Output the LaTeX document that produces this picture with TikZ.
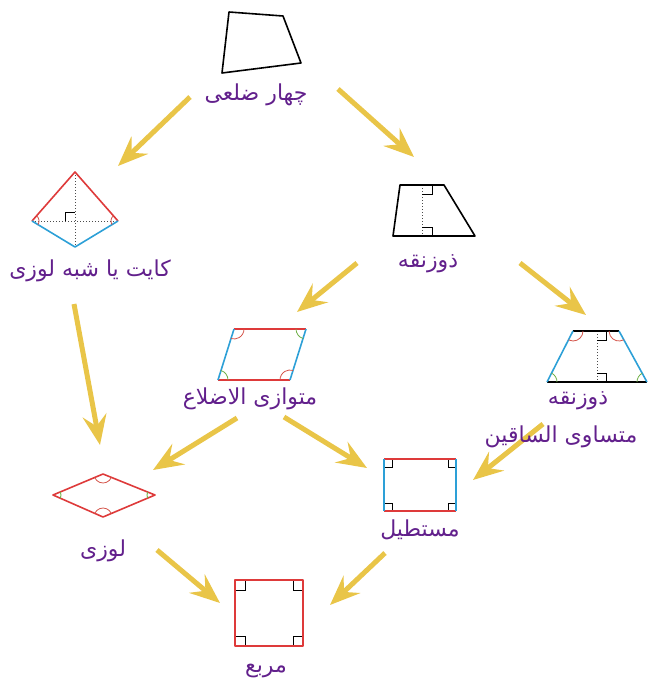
\documentclass[tikz,border=0pt]{standalone}
\usepackage{xcolor}
\usepackage{fontspec}
\usepackage{tikz}
\usetikzlibrary{positioning, arrows.meta}
\newfontfamily\arabicfont[Script=Arabic]{DejaVu Sans}
\TeXXeTstate=1
\definecolor{namepurple}{RGB}{98,32,140}
\definecolor{flowyellow}{RGB}{233,197,72}
\definecolor{edgered}{RGB}{222,58,58}
\definecolor{edgeblue}{RGB}{45,160,215}
\definecolor{arcred}{RGB}{212,84,74}
\definecolor{arcgreen}{RGB}{112,176,72}
\pgfdeclarelayer{background}
\pgfsetlayers{background,main}
\newcommand{\anglearc}[5]{\draw[#5] (#1) ++(#2:#4) arc[start angle=#2, end angle=#3, radius=#4];}
\newcommand{\rtltext}[1]{\beginR #1\endR}
\tikzset{flow/.style={line width=5pt, draw=flowyellow, -{Stealth[length=30pt, width=24pt, inset=11pt]}},
	shapename/.style={font=\arabicfont\fontsize{22}{26}\selectfont, text=namepurple, inner sep=0pt},
	shapebox/.style={inner sep=0pt, outer sep=0pt},
	outline/.style={line width=1.6pt, line join=round},
	helper/.style={dotted, line width=1pt, black!70},
	corner/.style={line width=0.8pt, black}}

\begin{document}
\begin{tikzpicture}[x=1pt, y=-1pt]
	\useasboundingbox (0,0) rectangle (660,682);
	\node[shapebox, minimum width=79pt, minimum height=61pt] (Quad) at (261.5,42.5) {};
	\node[shapebox, minimum width=86pt, minimum height=75pt] (Kite) at (75,209.5) {};
	\node[shapebox, minimum width=82pt, minimum height=51pt] (Trap) at (434,210.5) {};
	\node[shapebox, minimum width=88pt, minimum height=51pt] (Para) at (262,354.5) {};
	\node[shapebox, minimum width=100pt, minimum height=51pt] (Iso) at (597,356.5) {};
	\node[shapebox, minimum width=102pt, minimum height=43pt] (Rhombus) at (104,495.5) {};
	\node[shapebox, minimum width=72pt, minimum height=52pt] (Rect) at (420,485) {};
	\node[shapebox, minimum width=68pt, minimum height=66pt] (Square) at (269,613) {};
	
	\node[shapename, below of=Quad, node distance=52.5pt, xshift=-5.5pt] (Quad label) {\rtltext{چهار ضلعی}};
	\node[shapename, below of=Kite, node distance=61.5pt, xshift=15pt] (Kite label) {\rtltext{کایت یا شبه لوزی}};
	\node[shapename, below of=Trap, node distance=53.5pt, xshift=-6pt] (Trap label) {\rtltext{ذوزنقه}};
	\node[shapename, below of=Para, node distance=44.5pt, xshift=-12pt] (Para label) {\rtltext{متوازی الاضلاع}};
	\node[shapename, below of=Iso, node distance=44.5pt, xshift=-19pt] (Iso label) {\rtltext{ذوزنقه}};
	\node[shapename, below of=Iso label, node distance=36pt, xshift=-17pt] (Iso label 2) {\rtltext{متساوی الساقین}};
	\node[shapename, below of=Rhombus, node distance=55.5pt, xshift=-1pt] (Rhombus label) {\rtltext{لوزی}};
	\node[shapename, below of=Rect, node distance=45pt] (Rect label) {\rtltext{مستطیل}};
	\node[shapename, below of=Square, node distance=58pt, xshift=-3pt] (Square label) {\rtltext{مربع}};
	
	\draw[outline] (229,12) -- (283,16) -- (301,63) -- (222,73) -- cycle;
	
	\draw[helper] (32,221) -- (118,221) (75,172) -- (75,247);
	\draw[corner] (65,221) |- (75,212);
	\draw[outline, edgered] (32,221) -- (75,172) -- (118,221);
	\draw[outline, edgeblue] (32,221) -- (75,247) -- (118,221);
	\anglearc{32,221}{-48.7}{31.2}{7}{arcred, line width=0.8pt}
	\anglearc{118,221}{148.8}{228.7}{7}{arcred, line width=0.8pt}
	
	\draw[helper] (422,185) -- (422,236);
	\draw[corner] (432,185) |- (422,194) (422,227) -| (432,236);
	\draw[outline] (400,185) -- (444,185) -- (475,236) -- (393,236) -- cycle;
	
	\draw[outline, edgered] (234,329) -- (306,329) (218,380) -- (290,380);
	\draw[outline, edgeblue] (234,329) -- (218,380) (306,329) -- (290,380);
	\anglearc{234,329}{0}{107.4}{10}{arcred, line width=0.8pt}
	\anglearc{290,380}{180}{287.4}{10}{arcred, line width=0.8pt}
	\anglearc{306,329}{107.4}{180}{10}{arcgreen, line width=0.8pt}
	\anglearc{218,380}{287.4}{360}{10}{arcgreen, line width=0.8pt}
	
	\draw[helper] (597,331) -- (597,382);
	\draw[corner] (606,331) |- (597,340) (597,373) -| (606,382);
	\draw[outline] (573,331) -- (619,331) (547,382) -- (647,382);
	\draw[outline, edgeblue] (573,331) -- (547,382) (619,331) -- (647,382);
	\anglearc{573,331}{0}{117}{10}{arcred, line width=0.8pt}
	\anglearc{619,331}{61.2}{180}{10}{arcred, line width=0.8pt}
	\anglearc{547,382}{297}{360}{10}{arcgreen, line width=0.8pt}
	\anglearc{647,382}{180}{241.2}{10}{arcgreen, line width=0.8pt}
	
	\draw[outline, edgered] (53,495) -- (103,474) -- (155,495) -- (103,517) -- cycle;
	\anglearc{53,495}{-22.8}{23.7}{8}{arcgreen, line width=0.9pt}
	\anglearc{155,495}{157}{202}{8}{arcgreen, line width=0.9pt}
	\anglearc{103,474}{22}{157.2}{9}{arcred, line width=0.8pt}
	\anglearc{103,517}{203.7}{337.1}{9}{arcred, line width=0.8pt}
	
	\draw[corner] (384,467) -| (392,459) (456,467) -| (448,459) (384,503) -| (392,511) (456,503) -| (448,511);
	\draw[outline, edgered] (384,459) -- (456,459) (384,511) -- (456,511);
	\draw[outline, edgeblue] (384,459) -- (384,511) (456,459) -- (456,511);
	
	\draw[corner] (235,590) -| (245,580) (303,590) -| (293,580) (235,636) -| (245,646) (303,636) -| (293,646);
	\draw[outline, edgered] (235,580) rectangle (303,646);
	
	\begin{pgfonlayer}{background}
	\draw	([shift={(-66,2)}]Quad label.center) edge[flow] ([shift={(43,-43.5)}]Kite.center)
				([shift={(82,-6)}]Quad label.center) edge[flow] ([shift={(-20,-53.5)}]Trap.center)
				([shift={(-16,33)}]Kite label.center) edge[flow] ([shift={(-4,-50.5)}]Rhombus.center)
				([shift={(-71,-1)}]Trap label.center) edge[flow] ([shift={(35,-42.5)}]Para.center)
				([shift={(92,-1)}]Trap label.center) edge[flow] ([shift={(-11,-41.5)}]Iso.center)
				([shift={(-13,19)}]Para label.center) edge[flow] ([shift={(49,-25.5)}]Rhombus.center)
				([shift={(34,18)}]Para label.center) edge[flow] ([shift={(-53,-17)}]Rect.center)
				([shift={(-18,-13)}]Iso label 2.center) edge[flow] ([shift={(53,-5)}]Rect.center)
				([shift={(54,-1)}]Rhombus label.center) edge[flow] ([shift={(-49,-10)}]Square.center)
				([shift={(-35,23)}]Rect label.center) edge[flow] ([shift={(61,-8)}]Square.center);
	\end{pgfonlayer}
\end{tikzpicture}
\end{document}
